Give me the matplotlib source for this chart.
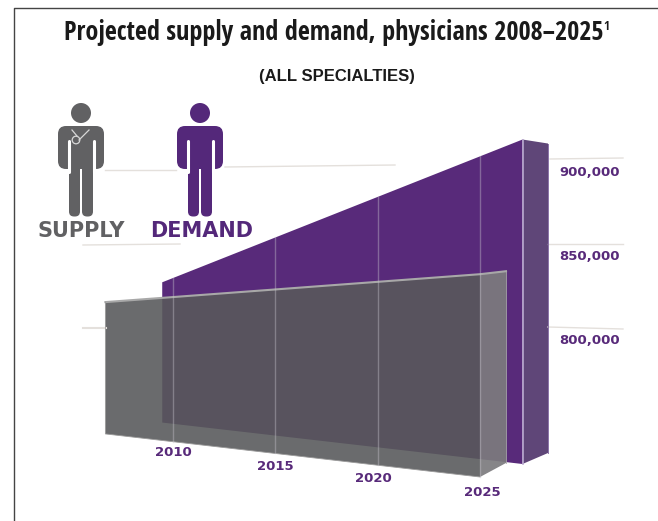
import matplotlib
matplotlib.use("Agg")
import matplotlib.pyplot as plt
from matplotlib.patches import Circle, FancyBboxPatch
import numpy as np

# values, thousands of physicians
supply_years = [2006.7, 2025]
supply_vals = [828, 870]
demand_years = [2007.4, 2025]
demand_vals = [833, 942]
base_val = 750

tick_years = [2010, 2015, 2020, 2025]
tick_labels = ["2010", "2015", "2020", "2025"]
axis_labels = ["900,000", "850,000", "800,000"]

PURPLE = "#582a7a"
GREY = "#58595b"
PX_PER_YEAR = 20.47
PX_PER_K = 1.69
SKEW = 0.115


# the two slabs are the same skewed plane moved sideways
def supply_xy(year, val):
    x = 480 + (year - 2025) * PX_PER_YEAR
    y = 477 - (2025 - year) * PX_PER_YEAR * SKEW - (val - base_val) * PX_PER_K
    return x, y


def demand_xy(year, val):
    x = 522.5 + (year - 2025) * PX_PER_YEAR
    y = 464 - (2025 - year) * PX_PER_YEAR * SKEW - (val - base_val) * PX_PER_K
    return x, y


def person(ax, cx, color):
    ax.add_patch(Circle((cx, 113), 10, color=color, lw=0))
    # legs first, their round tops are hidden by the body
    for s in (-1, 1):
        ax.add_patch(FancyBboxPatch((cx + s * 6.5 - 4, 160), 8, 55, boxstyle="round,pad=1.5,rounding_size=5", fc=color, ec="none"))
    # shoulders, arms and body
    ax.add_patch(FancyBboxPatch((cx - 21, 128), 42, 39, boxstyle="round,pad=2,rounding_size=8", fc=color, ec="none"))
    for s in (-1, 1):
        ax.plot([cx + s * 12.5, cx + s * 12.5], [141, 172], color="white", lw=2.2, solid_capstyle="round")
    ax.plot([cx, cx], [170, 218], color="white", lw=1.4)


fig = plt.figure(figsize=(6.58, 5.21), dpi=100)
ax = fig.add_axes([0, 0, 1, 1])
ax.set_xlim(0, 658)
ax.set_ylim(521, 0)
ax.axis("off")

# frame of the page, only left and top
ax.plot([13.5, 13.5, 658], [521, 7.5, 7.5], color="#444444", lw=1)

# faint horizontal grid
grid_c = "#e4e0dc"
ax.plot([225, 395], [167, 165], color=grid_c, lw=1)
ax.plot([105, 176], [170, 170], color=grid_c, lw=1)
ax.plot([550, 623], [159, 158], color=grid_c, lw=1)
ax.plot([83, 180], [245, 244], color=grid_c, lw=1)
ax.plot([548, 623], [244, 244], color=grid_c, lw=1)
ax.plot([83, 106], [328, 328], color=grid_c, lw=1.5)
ax.plot([548, 623], [327, 329], color=grid_c, lw=1)

# demand slab
x0, y0 = demand_xy(demand_years[0], demand_vals[0])
x1, y1 = demand_xy(demand_years[1], demand_vals[1])
xb0, yb0 = demand_xy(demand_years[0], base_val)
xb1, yb1 = demand_xy(demand_years[1], base_val)
ax.fill([x0, x1, xb1, xb0], [y0, y1, yb1, yb0], color=PURPLE, lw=0)
ax.fill([x1, x1 + 25.5, x1 + 25.5, xb1], [y1, y1 + 4, yb1 - 11, yb1], color="#5f4678", lw=0)
ax.plot([x1, xb1], [y1, yb1], color="#b9a9d0", lw=1.2)
ax.plot([x1 + 25.5, x1 + 25.5], [y1 + 4, yb1 - 11], color="#8a72a8", lw=0.7)

# supply slab
sx0, sy0 = supply_xy(supply_years[0], supply_vals[0])
sx1, sy1 = supply_xy(supply_years[1], supply_vals[1])
sb0x, sb0y = supply_xy(supply_years[0], base_val)
sb1x, sb1y = supply_xy(supply_years[1], base_val)
ax.fill([sx0, sx1, sb1x, sb0x], [sy0, sy1, sb1y, sb0y], color=GREY, alpha=0.89, lw=0)
ax.fill([sx1, sx1 + 26, sx1 + 26, sb1x], [sy1, sy1 - 3, sb1y - 14, sb1y], color="#7c7b7e", alpha=0.92, lw=0)
ax.plot([sx0, sx1, sx1 + 26], [sy0, sy1, sy1 - 3], color="#a8a8a8", lw=1.5)
ax.plot([sx0, sb0x, sb1x], [sy0, sb0y, sb1y], color="#9a9a9a", lw=0.6)
ax.plot([sx1 + 26, sx1 + 26], [sy1 - 3, sb1y - 14], color="#a8a8a8", lw=0.6)

# vertical year lines, from the top of the demand slab to the foot of the supply slab
top_x = [x0, x1]
top_y = [y0, y1]
for yr in tick_years:
    gx, gy = supply_xy(yr, base_val)
    ax.plot([gx, gx], [np.interp(gx, top_x, top_y), gy], color="#c8c5ce", lw=1, alpha=0.4)

# year labels
label_y = [453, 467, 479, 492]
for yr, lab, ly, dx in zip(tick_years, tick_labels, label_y, [0, 0, -4, 2]):
    gx, _ = supply_xy(yr, base_val)
    ax.text(gx + dx, ly, lab, color=PURPLE, fontsize=9.5, fontweight="bold", ha="center", va="center", family="DejaVu Sans")

for lab, ly in zip(axis_labels, [173, 257, 340]):
    ax.text(590, ly, lab, color=PURPLE, fontsize=9.5, fontweight="bold", ha="center", va="center", family="DejaVu Sans")

# little people legend
person(ax, 81, "#616163")
person(ax, 200, "#54287a")
ax.plot([72, 77], [130, 136], color="#d8d8d8", lw=0.9)
ax.plot([89, 79], [130, 140], color="#d8d8d8", lw=0.9)
ax.add_patch(Circle((76, 140), 3.8, fc="none", ec="#d8d8d8", lw=0.9))
ax.text(81, 231, "SUPPLY", color="#616163", fontsize=15, fontweight="bold", ha="center", va="center", family="DejaVu Sans")
ax.text(202, 231, "DEMAND", color="#54287a", fontsize=15, fontweight="bold", ha="center", va="center", family="DejaVu Sans")

# headings
ax.text(64, 33, "Projected supply and demand, physicians 2008\u20132025", fontsize=18.8, fontweight="bold", ha="left", va="center",
        color="#1a1a1a", family="Open Sans Condensed")
ax.text(603, 27, "1", fontsize=9, fontweight="bold", ha="left", va="center", color="#1a1a1a", family="Open Sans Condensed")
ax.text(337, 76, "(ALL SPECIALTIES)", fontsize=12, fontweight="bold", ha="center", va="center", color="#1a1a1a", family="Liberation Sans")

fig.savefig("out.png", dpi=100)
